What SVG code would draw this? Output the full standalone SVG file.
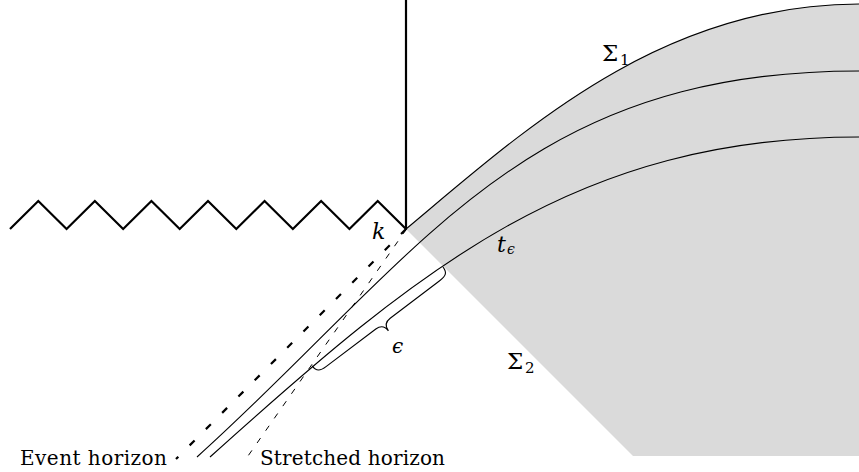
<svg xmlns="http://www.w3.org/2000/svg" width="859" height="472" viewBox="0 0 859 472">
<style>
.thick{fill:none;stroke:#000;stroke-width:2.2;stroke-linejoin:miter}
.thin{fill:none;stroke:#000;stroke-width:1.1}
.dashthick{fill:none;stroke:#000;stroke-width:2.2;stroke-dasharray:7 16}
.dashthin{fill:none;stroke:#000;stroke-width:1;stroke-dasharray:6 9}
text{font-family:'DejaVu Serif',serif;fill:#000}
.it{font-style:italic}
</style>
<rect width="859" height="472" fill="#fff"/>
<g id="region">
<path d="M406,229 C521,133 659,4 859,4 L859,456 L633,456 Z" fill="#dadada"/>
</g>
<g id="singularity">
<polyline class="thick" points="10,229 38.29,201 66.57,229 94.86,201 123.14,229 151.43,201 179.71,229 208,201 236.29,229 264.57,201 292.86,229 321.14,201 349.43,229 377.71,201 406,229"/>
<line class="thick" x1="406" y1="0" x2="406" y2="229.5"/>
</g>
<g id="connectors">
<path id="sigma1" class="thin" d="M406,229 C521,133 659,4 859,4"/>
<path id="middle" class="thin" d="M197,457 C420,256 520,71 859,71"/>
<path id="lower" class="thin" d="M210,457 C420,268 576,137 859,137"/>
<line id="event" class="dashthick" x1="406" y1="229" x2="176" y2="459"/>
<line id="stretched" class="dashthin" x1="406.5" y1="229" x2="248" y2="456"/>
<path id="brace" class="thin" transform="translate(443,267) rotate(142.92)" d="M0,0 C0,-7 3,-9 11,-9 L73,-9 C79,-9 82,-12 82,-18 C82,-12 85,-9 91,-9 L153,-9 C161,-9 164,-7 164,0"/>
</g>
<g id="labels">
<text x="602" y="61" font-size="23">Σ</text>
<text x="620" y="65" font-size="15">1</text>
<text x="507" y="369" font-size="23">Σ</text>
<text x="525" y="373" font-size="15">2</text>
<text class="it" x="497" y="252" font-size="22">t</text>
<text class="it" x="507" y="254" font-size="14">ϵ</text>
<text class="it" x="372" y="239" font-size="22">k</text>
<text class="it" x="392" y="353" font-size="20">ϵ</text>
<text x="20" y="465" font-size="20" textLength="147" lengthAdjust="spacing">Event horizon</text>
<text x="260" y="465" font-size="20" textLength="185" lengthAdjust="spacing">Stretched horizon</text>
</g>
</svg>
